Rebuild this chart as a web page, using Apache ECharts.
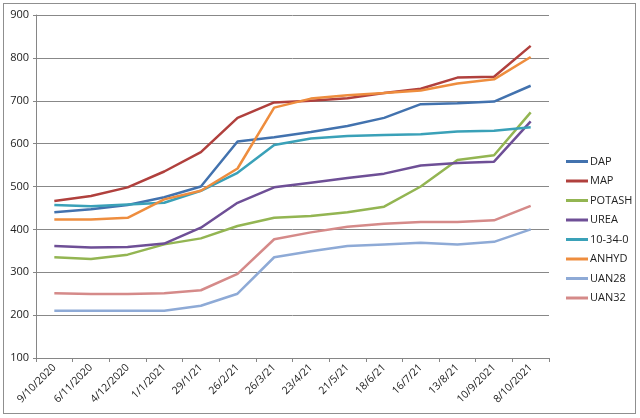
<!DOCTYPE html>
<html>
<head>
<meta charset="utf-8">
<script src="https://cdn.jsdelivr.net/npm/echarts@6/dist/echarts.min.js"></script>
<style>
  html, body { margin: 0; padding: 0; background: #fff; }
  #frame { position: absolute; left: 3px; top: 3px; width: 631px; height: 409px; border: 1px solid #8f8f8f; }
  #main { position: absolute; left: 0; top: 0; width: 640px; height: 418px; }
</style>
</head>
<body>
<div id="frame"></div>
<div id="main"></div>
<script>
// dates on the x axis
const dates = ['9/10/2020', '6/11/2020', '4/12/2020', '1/1/2021', '29/1/21', '26/2/21', '26/3/21',
  '23/4/21', '21/5/21', '18/6/21', '16/7/21', '13/8/21', '10/9/2021', '8/10/2021'];

const dap    = [440, 447, 457, 475, 500, 605, 615, 627, 641, 660, 692, 694, 698, 735];
const map    = [466, 478, 498, 535, 580, 660, 696, 700, 706, 718, 728, 754, 756, 828];
const potash = [335, 331, 341, 365, 379, 408, 427, 431, 440, 453, 500, 562, 573, 673];
const urea   = [361, 358, 359, 367, 404, 462, 498, 509, 520, 530, 549, 555, 558, 652];
const npk    = [457, 454, 458, 462, 490, 532, 597, 612, 618, 620, 622, 628, 630, 638];
const anhyd  = [423, 423, 427, 470, 490, 542, 684, 705, 713, 718, 724, 740, 750, 802];
const uan28  = [210, 210, 210, 210, 222, 250, 335, 349, 361, 365, 369, 365, 371, 400];
const uan32  = [251, 249, 249, 251, 258, 296, 377, 393, 406, 413, 417, 417, 421, 455];

const yTicks = [100, 900, 100]; // min, max, step

const names  = ['DAP', 'MAP', 'POTASH', 'UREA', '10-34-0', 'ANHYD', 'UAN28', 'UAN32'];
const values = [dap, map, potash, urea, npk, anhyd, uan28, uan32];
const colors = ['#4272ae', '#b0403d', '#93b552', '#6e4f96', '#3aa1b8', '#ee8d3e', '#8eaad6', '#d58a89'];

const font = 'Open Sans, Liberation Sans, sans-serif';
const chart = echarts.init(document.getElementById('main'));

chart.setOption({
  animation: false,
  color: colors,
  grid: { left: 36, right: 91, top: 15, bottom: 60 },
  legend: {
    orient: 'vertical',
    left: 561, top: 151,
    itemWidth: 22, itemHeight: 3, itemGap: 8.5,
    icon: 'rect',
    textStyle: { fontFamily: font, fontSize: 11, color: '#222', padding: [0, 0, 0, -3] },
    data: names
  },
  xAxis: {
    type: 'category',
    data: dates,
    boundaryGap: true,
    axisLine: { lineStyle: { color: '#868686' } },
    axisTick: { show: true, length: 4, lineStyle: { color: '#868686' } },
    axisLabel: { interval: 0, rotate: 45, margin: 8, fontFamily: font, fontSize: 10.5, color: '#222' }
  },
  yAxis: {
    type: 'value',
    min: yTicks[0], max: yTicks[1], interval: yTicks[2],
    axisLine: { show: true, lineStyle: { color: '#868686' } },
    axisTick: { show: true, length: 3, lineStyle: { color: '#868686' } },
    splitLine: { lineStyle: { color: '#888888' } },
    axisLabel: { margin: 7, fontFamily: font, fontSize: 11, color: '#222' }
  },
  series: names.map((n, i) => ({
    name: n,
    type: 'line',
    data: values[i],
    showSymbol: false,
    symbol: 'none',
    lineStyle: { width: 2.5 }
  }))
});
</script>
</body>
</html>
